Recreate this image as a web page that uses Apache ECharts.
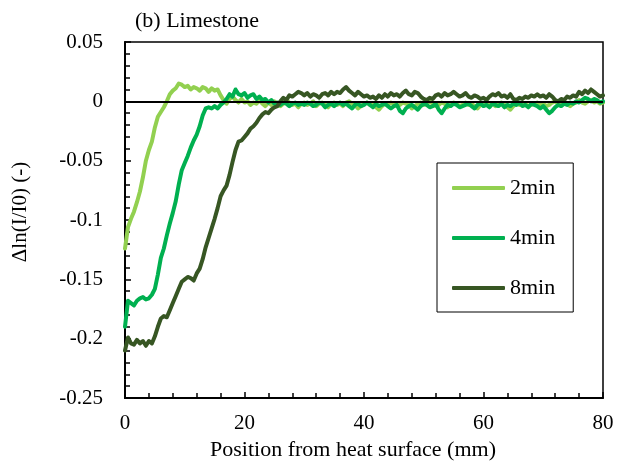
<!DOCTYPE html>
<html>
<head>
<meta charset="utf-8">
<script src="https://cdn.jsdelivr.net/npm/echarts@6/dist/echarts.min.js"></script>
<style>
  html, body { margin: 0; padding: 0; background: #fff; }
  #chart { width: 630px; height: 466px; }
</style>
</head>
<body>
<div id="chart"></div>
<script>
// position from heat surface (mm), every 0.5 mm
var positions = [
  0,0.5,1,1.5,2,2.5,3,3.5,4,4.5,5,5.5,6,6.5,7,7.5,8,8.5,9,9.5,
  10,10.5,11,11.5,12,12.5,13,13.5,14,14.5,15,15.5,16,16.5,17,17.5,18,18.5,19,19.5,
  20,20.5,21,21.5,22,22.5,23,23.5,24,24.5,25,25.5,26,26.5,27,27.5,28,28.5,29,29.5,
  30,30.5,31,31.5,32,32.5,33,33.5,34,34.5,35,35.5,36,36.5,37,37.5,38,38.5,39,39.5,
  40,40.5,41,41.5,42,42.5,43,43.5,44,44.5,45,45.5,46,46.5,47,47.5,48,48.5,49,49.5,
  50,50.5,51,51.5,52,52.5,53,53.5,54,54.5,55,55.5,56,56.5,57,57.5,58,58.5,59,59.5,
  60,60.5,61,61.5,62,62.5,63,63.5,64,64.5,65,65.5,66,66.5,67,67.5,68,68.5,69,69.5,
  70,70.5,71,71.5,72,72.5,73,73.5,74,74.5,75,75.5,76,76.5,77,77.5,78,78.5,79,79.5,
  80
];

var min2 = [
  -0.124,-0.106,-0.099,-0.093,-0.085,-0.076,-0.064,-0.050,-0.041,-0.034,
  -0.022,-0.013,-0.009,-0.005,0.000,0.006,0.009,0.011,0.015,0.014,
  0.012,0.013,0.010,0.012,0.011,0.009,0.012,0.011,0.008,0.011,
  0.009,0.010,0.005,0.001,-0.002,0.002,0.004,0.001,-0.001,0.002,
  -0.001,0.000,-0.003,-0.001,-0.002,0.001,-0.002,-0.004,-0.001,-0.003,
  0.000,-0.002,-0.004,-0.002,0.001,-0.001,-0.003,-0.002,-0.005,-0.002,
  -0.001,-0.003,-0.002,0.000,-0.004,-0.002,-0.001,-0.003,-0.005,-0.002,
  -0.001,-0.003,-0.002,-0.004,-0.001,0.000,-0.002,-0.003,-0.006,-0.004,
  -0.002,-0.001,-0.003,-0.002,-0.005,-0.007,-0.004,-0.002,-0.003,-0.001,
  -0.002,-0.004,-0.003,-0.001,-0.002,-0.003,-0.006,-0.004,-0.002,-0.001,
  -0.003,-0.002,0.000,-0.002,-0.004,-0.003,-0.001,-0.002,-0.005,-0.003,
  -0.001,-0.002,-0.004,-0.003,-0.001,-0.003,-0.002,-0.004,-0.006,-0.003,
  -0.002,-0.001,-0.003,-0.002,-0.004,-0.002,-0.001,-0.003,-0.005,-0.007,
  -0.004,-0.002,-0.003,-0.001,-0.002,-0.004,-0.003,-0.002,-0.001,-0.003,
  -0.002,-0.004,-0.003,-0.001,0.000,-0.002,-0.003,-0.001,-0.002,-0.004,
  -0.002,-0.001,0.001,-0.001,-0.002,0.000,0.001,-0.001,0.000,-0.002,
  -0.001
];

var min4 = [
  -0.190,-0.168,-0.170,-0.172,-0.168,-0.166,-0.165,-0.167,-0.166,-0.163,
  -0.158,-0.146,-0.132,-0.124,-0.113,-0.103,-0.094,-0.084,-0.070,-0.058,
  -0.052,-0.046,-0.039,-0.033,-0.028,-0.021,-0.012,-0.006,-0.005,-0.006,
  -0.004,-0.006,-0.003,-0.001,0.002,0.006,0.004,0.010,0.006,0.005,
  0.007,0.003,0.005,0.006,0.002,0.004,0.001,0.002,-0.001,0.001,
  -0.002,-0.001,-0.003,-0.001,-0.002,-0.004,-0.002,-0.001,-0.003,-0.002,
  -0.003,-0.001,-0.002,-0.004,-0.003,-0.001,-0.002,-0.005,-0.003,-0.002,
  -0.004,-0.002,-0.001,-0.003,-0.002,-0.004,-0.006,-0.003,-0.002,-0.004,
  -0.003,-0.001,-0.003,-0.005,-0.002,-0.004,-0.003,-0.002,-0.004,-0.006,
  -0.004,-0.003,-0.008,-0.010,-0.006,-0.004,-0.003,-0.005,-0.007,-0.004,
  -0.002,-0.003,-0.005,-0.004,-0.002,-0.007,-0.010,-0.006,-0.003,-0.004,
  -0.002,-0.003,-0.005,-0.004,-0.003,-0.002,-0.004,-0.006,-0.003,-0.002,
  -0.004,-0.003,-0.005,-0.002,-0.003,-0.004,-0.002,-0.005,-0.003,-0.004,
  -0.002,-0.003,-0.001,-0.004,-0.003,-0.005,-0.002,-0.003,-0.004,-0.006,
  -0.004,-0.007,-0.010,-0.008,-0.005,-0.003,-0.004,-0.002,-0.003,-0.001,
  -0.002,0.000,-0.001,0.001,0.003,0.002,0.000,0.002,0.001,-0.001,
  0.000
];

var min8 = [
  -0.210,-0.199,-0.204,-0.205,-0.201,-0.204,-0.202,-0.206,-0.202,-0.204,
  -0.198,-0.190,-0.183,-0.181,-0.182,-0.176,-0.170,-0.164,-0.158,-0.152,
  -0.150,-0.148,-0.149,-0.151,-0.145,-0.141,-0.133,-0.123,-0.115,-0.107,
  -0.099,-0.090,-0.080,-0.075,-0.071,-0.062,-0.051,-0.041,-0.034,-0.033,
  -0.030,-0.027,-0.023,-0.021,-0.018,-0.014,-0.011,-0.009,-0.010,-0.007,
  -0.005,-0.004,0.000,0.003,0.001,0.005,0.004,0.006,0.008,0.007,
  0.005,0.007,0.004,0.006,0.005,0.003,0.006,0.007,0.005,0.008,
  0.006,0.008,0.007,0.010,0.012,0.009,0.007,0.005,0.008,0.006,
  0.004,0.005,0.003,0.004,0.002,0.005,0.003,0.006,0.004,0.007,
  0.005,0.006,0.004,0.007,0.009,0.006,0.005,0.008,0.007,0.004,
  0.002,0.001,0.003,0.002,0.005,0.006,0.004,0.007,0.005,0.006,
  0.008,0.006,0.004,0.005,0.007,0.004,0.003,0.005,0.004,0.002,
  0.003,0.001,0.004,0.006,0.005,0.007,0.004,0.005,0.003,0.006,
  0.002,0.001,0.003,0.002,0.004,0.003,0.005,0.004,0.006,0.004,
  0.005,0.003,0.006,0.004,0.001,0.000,0.002,0.001,0.004,0.003,
  0.005,0.004,0.008,0.006,0.009,0.007,0.010,0.008,0.006,0.004,
  0.005
];

var seriesNames = ['2min', '4min', '8min'];
var seriesColors = ['#92d050', '#00b050', '#375623'];

function pairs(vals) {
  return positions.map(function (p, i) { return [p, vals[i]]; });
}

var font = 'Liberation Serif, Times New Roman, serif';
var chart = echarts.init(document.getElementById('chart'));

var series = [min2, min4, min8].map(function (vals, i) {
  return {
    name: seriesNames[i],
    type: 'line',
    data: pairs(vals),
    showSymbol: false,
    symbol: 'none',
    color: seriesColors[i],
    lineStyle: { width: 4, color: seriesColors[i], join: 'round', cap: 'round' },
    z: 2 + i
  };
});
// zero line on top of the curves
series[2].markLine = {
  silent: true,
  symbol: 'none',
  label: { show: false },
  lineStyle: { color: '#000', width: 2, type: 'solid' },
  data: [{ yAxis: 0 }]
};

var option = {
  animation: false,
  backgroundColor: '#fff',
  title: {
    text: '(b) Limestone',
    left: 130,
    top: 5,
    textStyle: { fontFamily: font, fontSize: 22, fontWeight: 'normal', color: '#000' }
  },
  legend: {
    orient: 'vertical',
    left: 437,
    top: 163,
    padding: [14, 18, 13, 15],
    itemWidth: 53,
    itemHeight: 4,
    itemGap: 28,
    icon: 'roundRect',
    borderColor: '#000',
    borderWidth: 1,
    backgroundColor: '#fff',
    textStyle: { fontFamily: font, fontSize: 22, color: '#000' },
    data: seriesNames
  },
  grid: {
    left: 125, right: 27, top: 42, bottom: 68,
    show: true, borderColor: '#000', borderWidth: 1.5
  },
  xAxis: {
    type: 'value',
    min: 0, max: 80, interval: 20,
    name: 'Position from heat surface (mm)',
    nameLocation: 'middle',
    nameGap: 41,
    nameTextStyle: { fontFamily: font, fontSize: 22, color: '#000', padding: [0, 22, 0, 0] },
    axisLine: { show: true, onZero: false, lineStyle: { color: '#000', width: 2 } },
    axisTick: { show: true, inside: true, length: 6, lineStyle: { color: '#000', width: 1.5 } },
    minorTick: { show: true, splitNumber: 5, length: 5, lineStyle: { color: '#000', width: 1.5 } },
    axisLabel: { fontFamily: font, fontSize: 21, color: '#000', margin: 15 },
    splitLine: { show: false }
  },
  yAxis: {
    type: 'value',
    min: -0.25, max: 0.05, interval: 0.05,
    name: 'Δln(I/I0) (-)',
    nameLocation: 'middle',
    nameGap: 94,
    nameTextStyle: { fontFamily: font, fontSize: 21, color: '#000', padding: [0, 0, 0, 16] },
    axisLine: { show: true, onZero: false, lineStyle: { color: '#000', width: 2 } },
    axisTick: { show: true, inside: true, length: 6, lineStyle: { color: '#000', width: 1.5 } },
    minorTick: { show: true, splitNumber: 5, length: 5, lineStyle: { color: '#000', width: 1.5 } },
    axisLabel: {
      fontFamily: font, fontSize: 21, color: '#000', margin: 22,
      formatter: function (v) { return String(Math.round(v * 100) / 100); }
    },
    splitLine: { show: false }
  },
  series: series
};

chart.setOption(option);
</script>
</body>
</html>
